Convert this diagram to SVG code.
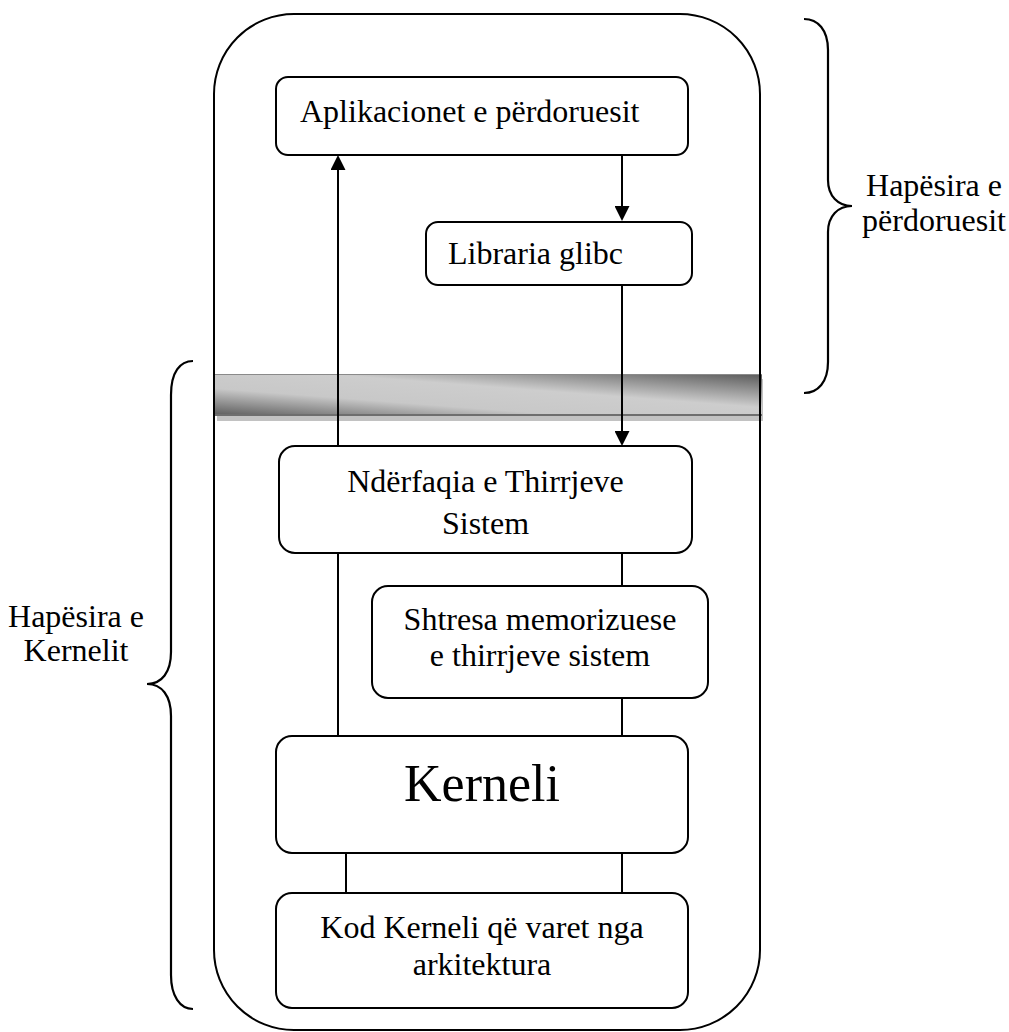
<svg xmlns="http://www.w3.org/2000/svg" width="1009" height="1032" viewBox="0 0 1009 1032">
<style>
.box{fill:#fff;stroke:#000;stroke-width:2}
.t{font-family:"Liberation Serif","Times New Roman",serif;font-size:32px;fill:#000}
.c{text-anchor:middle}
.ln{stroke:#000;stroke-width:2;fill:none}
.br{stroke:#000;stroke-width:2.2;fill:none}
</style>
<defs>
<linearGradient id="g" x1="0" y1="1" x2="1" y2="0">
<stop offset="0" stop-color="#5a5a5a"/>
<stop offset="0.33" stop-color="#c8c8c8"/>
<stop offset="0.6" stop-color="#cdcdcd"/>
<stop offset="1" stop-color="#5a5a5a"/>
</linearGradient>
<marker id="ah" viewBox="0 0 10 10" refX="4.7" refY="5" markerUnits="userSpaceOnUse" markerWidth="15" markerHeight="15" orient="auto">
<path d="M0,0 L10,5 L0,10 z" fill="#000"/>
</marker>
</defs>
<g id="separator">
<rect x="217" y="379" width="546" height="42" fill="#c2c2c2"/>
<rect x="214" y="374" width="548" height="42" fill="url(#g)"/>
<line x1="214" y1="374.5" x2="762" y2="374.5" stroke="#8a8a8a" stroke-width="1"/>
<line x1="214" y1="415" x2="762" y2="415" stroke="#6e6e6e" stroke-width="2"/>
</g>
<g id="outer">
<rect x="214" y="14" width="546" height="1016" rx="80" ry="80" fill="none" stroke="#000" stroke-width="2"/>
</g>
<g id="connectors">
<line class="ln" x1="622" y1="155" x2="622" y2="213" marker-end="url(#ah)"/>
<line class="ln" x1="622" y1="285" x2="622" y2="438" marker-end="url(#ah)"/>
<line class="ln" x1="338" y1="446" x2="338" y2="163" marker-end="url(#ah)"/>
<line class="ln" x1="338" y1="553" x2="338" y2="736"/>
<line class="ln" x1="622" y1="553" x2="622" y2="586"/>
<line class="ln" x1="622" y1="698" x2="622" y2="736"/>
<line class="ln" x1="346" y1="853" x2="346" y2="893"/>
<line class="ln" x1="622" y1="853" x2="622" y2="893"/>
</g>
<g id="app">
<rect class="box" x="276" y="77" width="412" height="78" rx="12"/>
<text class="t" x="300" y="122">Aplikacionet e përdoruesit</text>
</g>
<g id="glibc">
<rect class="box" x="426" y="222" width="266" height="63" rx="12"/>
<text class="t" x="448" y="264">Libraria glibc</text>
</g>
<g id="sci">
<rect class="box" x="279" y="446" width="413" height="107" rx="16"/>
<text class="t c" x="485.5" y="492">Ndërfaqia e Thirrjeve</text>
<text class="t c" x="485.5" y="534">Sistem</text>
</g>
<g id="cache">
<rect class="box" x="372" y="586" width="336" height="112" rx="16"/>
<text class="t c" x="540" y="630">Shtresa memorizuese</text>
<text class="t c" x="540" y="666">e thirrjeve sistem</text>
</g>
<g id="kernel">
<rect class="box" x="276" y="736" width="412" height="117" rx="16"/>
<text class="t c" x="482" y="801" style="font-size:52px">Kerneli</text>
</g>
<g id="arch">
<rect class="box" x="276" y="893" width="412" height="115" rx="16"/>
<text class="t c" x="482" y="938">Kod Kerneli që varet nga</text>
<text class="t c" x="482" y="975">arkitektura</text>
</g>
<g id="user-space">
<path class="br" d="M804,19 C818,19 828,30 828,50 L828,180 C828,196 838,206 852,206 C838,206 828,216 828,232 L828,362 C828,382 818,393 804,393"/>
<text class="t c" x="934" y="196">Hapësira e</text>
<text class="t c" x="934" y="231">përdoruesit</text>
</g>
<g id="kernel-space">
<path class="br" d="M193,361 C180,361 171,372 171,395 L171,652 C171,672 162,684 147,684 C162,684 171,696 171,716 L171,975 C171,996 180,1009 193,1009"/>
<text class="t c" x="76" y="627">Hapësira e</text>
<text class="t c" x="76" y="661">Kernelit</text>
</g>
</svg>
